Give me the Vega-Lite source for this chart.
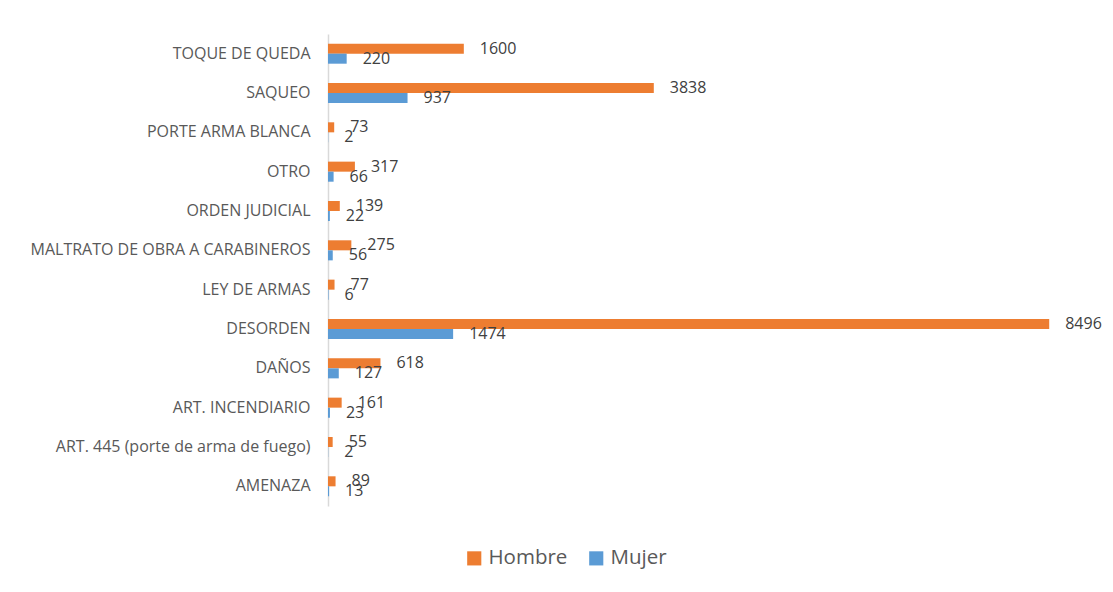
{
  "$schema": "https://vega.github.io/schema/vega-lite/v6.json",
  "width": 764,
  "height": 472,
  "autosize": {"type": "none"},
  "padding": {"left": 328, "top": 34, "right": 21, "bottom": 86},
  "background": "white",
  "data": {
    "values": [
      {"delito": "TOQUE DE QUEDA", "sexo": "Hombre", "n": 1600},
      {"delito": "TOQUE DE QUEDA", "sexo": "Mujer", "n": 220},
      {"delito": "SAQUEO", "sexo": "Hombre", "n": 3838},
      {"delito": "SAQUEO", "sexo": "Mujer", "n": 937},
      {"delito": "PORTE ARMA BLANCA", "sexo": "Hombre", "n": 73},
      {"delito": "PORTE ARMA BLANCA", "sexo": "Mujer", "n": 2},
      {"delito": "OTRO", "sexo": "Hombre", "n": 317},
      {"delito": "OTRO", "sexo": "Mujer", "n": 66},
      {"delito": "ORDEN JUDICIAL", "sexo": "Hombre", "n": 139},
      {"delito": "ORDEN JUDICIAL", "sexo": "Mujer", "n": 22},
      {"delito": "MALTRATO DE OBRA A CARABINEROS", "sexo": "Hombre", "n": 275},
      {"delito": "MALTRATO DE OBRA A CARABINEROS", "sexo": "Mujer", "n": 56},
      {"delito": "LEY DE ARMAS", "sexo": "Hombre", "n": 77},
      {"delito": "LEY DE ARMAS", "sexo": "Mujer", "n": 6},
      {"delito": "DESORDEN", "sexo": "Hombre", "n": 8496},
      {"delito": "DESORDEN", "sexo": "Mujer", "n": 1474},
      {"delito": "DAÑOS", "sexo": "Hombre", "n": 618},
      {"delito": "DAÑOS", "sexo": "Mujer", "n": 127},
      {"delito": "ART. INCENDIARIO", "sexo": "Hombre", "n": 161},
      {"delito": "ART. INCENDIARIO", "sexo": "Mujer", "n": 23},
      {"delito": "ART. 445 (porte de arma de fuego)", "sexo": "Hombre", "n": 55},
      {"delito": "ART. 445 (porte de arma de fuego)", "sexo": "Mujer", "n": 2},
      {"delito": "AMENAZA", "sexo": "Hombre", "n": 89},
      {"delito": "AMENAZA", "sexo": "Mujer", "n": 13}
    ]
  },
  "encoding": {
    "y": {
      "field": "delito",
      "type": "nominal",
      "sort": ["TOQUE DE QUEDA", "SAQUEO", "PORTE ARMA BLANCA", "OTRO", "ORDEN JUDICIAL", "MALTRATO DE OBRA A CARABINEROS", "LEY DE ARMAS", "DESORDEN", "DAÑOS", "ART. INCENDIARIO", "ART. 445 (porte de arma de fuego)", "AMENAZA"],
      "scale": {"paddingInner": 0.49, "paddingOuter": 0.245},
      "axis": {
        "title": null,
        "ticks": false,
        "domainColor": "#d9d9d9",
        "domainWidth": 1.5,
        "labelFont": "Open Sans",
        "labelFontSize": 16,
        "labelColor": "#595959",
        "labelPadding": 18,
        "labelLimit": 0
      }
    },
    "yOffset": {"field": "sexo", "type": "nominal", "sort": ["Hombre", "Mujer"]},
    "x": {"field": "n", "type": "quantitative", "scale": {"domain": [0, 9000]}, "axis": null}
  },
  "layer": [
    {
      "mark": {"type": "bar"},
      "encoding": {
        "color": {
          "field": "sexo",
          "type": "nominal",
          "scale": {"domain": ["Hombre", "Mujer"], "range": ["#ED7D31", "#5B9BD5"]},
          "legend": {
            "title": null,
            "orient": "none",
            "direction": "horizontal",
            "legendX": 136,
            "legendY": 514,
            "symbolType": "square",
            "symbolSize": 200,
            "symbolStrokeWidth": 0,
            "labelFont": "Open Sans",
            "labelFontSize": 20.5,
            "labelColor": "#595959",
            "labelOffset": 4,
            "columnPadding": 18
          }
        }
      }
    },
    {
      "mark": {"type": "text", "align": "left", "baseline": "middle", "dx": 16, "font": "Open Sans", "fontSize": 16, "color": "#404040"},
      "encoding": {"text": {"field": "n", "type": "quantitative"}}
    }
  ],
  "config": {"view": {"stroke": null}}
}
